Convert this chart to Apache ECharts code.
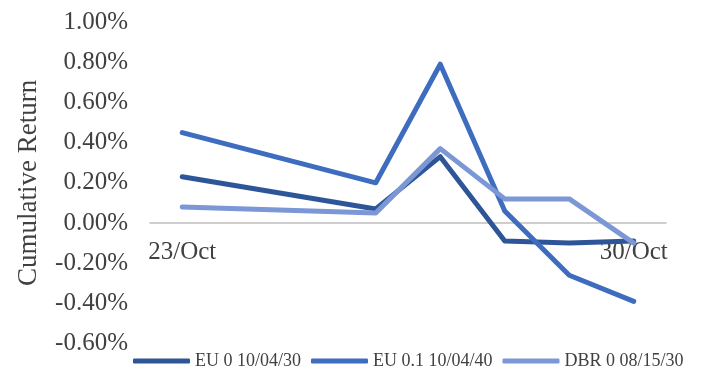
<!DOCTYPE html>
<html>
<head>
<meta charset="utf-8">
<script src="https://cdn.jsdelivr.net/npm/echarts@6/dist/echarts.min.js"></script>
<style>
  html, body { margin: 0; padding: 0; background: #ffffff; }
  #chart { width: 701px; height: 367px; }
</style>
</head>
<body>
<div id="chart"></div>
<script>
// Daily calendar from 23 to 30 October; weekend days carry no observation.
const days = ['23/Oct', '24/Oct', '25/Oct', '26/Oct', '27/Oct', '28/Oct', '29/Oct', '30/Oct'];

// Cumulative returns in percent.
const eu0_2030 = [0.23, null, null, 0.07, 0.33, -0.09, -0.10, -0.09];
const eu01_2040 = [0.45, null, null, 0.20, 0.79, 0.06, -0.26, -0.39];
const dbr0_2030 = [0.08, null, null, 0.05, 0.37, 0.12, 0.12, -0.10];

const seriesNames = ['EU 0 10/04/30', 'EU 0.1 10/04/40', 'DBR 0 08/15/30'];
const seriesColors = ['#2E5597', '#3E6DC0', '#7B97D6'];

const yTicks = { min: -0.6, max: 1.0, step: 0.2 };

const serif = '"Liberation Serif", "Times New Roman", serif';
const textColor = '#404040';

const gridBox = { left: 150, right: 35, top: 22, bottom: 23.4 };

const chart = echarts.init(document.getElementById('chart'), null, { renderer: 'canvas' });

const makeLine = (name, data, color) => ({
  name: name,
  type: 'line',
  data: data,
  connectNulls: true,
  symbol: 'none',
  smooth: false,
  color: color,
  lineStyle: { width: 5, color: color, cap: 'round', join: 'round' },
  emphasis: { disabled: true }
});

chart.setOption({
  animation: false,
  backgroundColor: '#ffffff',
  grid: Object.assign({ containLabel: false, outerBoundsMode: 'none' }, gridBox),
  xAxis: {
    type: 'category',
    data: days,
    boundaryGap: true,
    offset: 0,
    axisLine: { show: true, onZero: false, lineStyle: { color: '#BFBFBF', width: 1.5 } },
    axisTick: { show: false },
    axisLabel: {
      interval: 6,
      margin: 17,
      color: textColor,
      fontFamily: serif,
      fontSize: 25
    },
    splitLine: { show: false }
  },
  yAxis: {
    type: 'value',
    min: yTicks.min,
    max: yTicks.max,
    interval: yTicks.step,
    name: 'Cumulative Return',
    nameLocation: 'middle',
    nameGap: 108,
    nameTextStyle: { color: textColor, fontFamily: serif, fontSize: 27 },
    axisLine: { show: false },
    axisTick: { show: false },
    splitLine: { show: false },
    axisLabel: {
      margin: 22,
      color: textColor,
      fontFamily: serif,
      fontSize: 25,
      formatter: v => v.toFixed(2) + '%'
    }
  },
  legend: {
    left: 133,
    top: 352,
    padding: 0,
    itemWidth: 57,
    itemHeight: 5,
    itemGap: 10,
    icon: 'roundRect',
    selectedMode: false,
    textStyle: { color: textColor, fontFamily: serif, fontSize: 18 },
    data: seriesNames
  },
  series: [
    makeLine(seriesNames[0], eu0_2030, seriesColors[0]),
    makeLine(seriesNames[1], eu01_2040, seriesColors[1]),
    makeLine(seriesNames[2], dbr0_2030, seriesColors[2])
  ]
});

// Lift the category axis (line and labels) up to the zero level of the value scale.
const zeroY = chart.convertToPixel({ yAxisIndex: 0 }, 0);
const gridBottomY = chart.getHeight() - gridBox.bottom;
chart.setOption({ xAxis: { offset: zeroY - gridBottomY } });
</script>
</body>
</html>
